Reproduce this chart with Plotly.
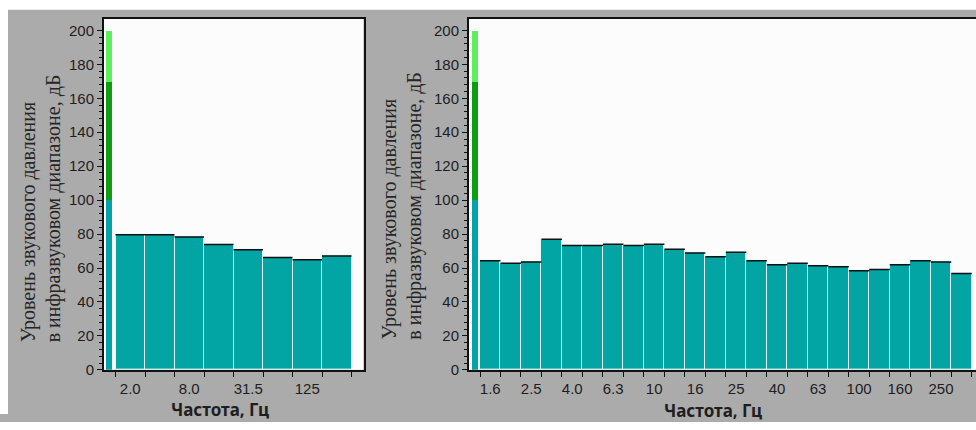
import plotly.graph_objects as go

# ---------------- data ----------------
left_bands = ["2.0", "4.0", "8.0", "16", "31.5", "63", "125", "250"]
left_values = [79.6, 79.6, 78.3, 73.9, 70.8, 66.2, 64.8, 67.1]
left_tick_labels = ["2.0", "8.0", "31.5", "125"]

right_bands = ["1.6", "2.0", "2.5", "3.15", "4.0", "5.0", "6.3", "8.0", "10", "12.5",
               "16", "20", "25", "31.5", "40", "50", "63", "80", "100", "125",
               "160", "200", "250", "315"]
right_values = [64.3, 62.8, 63.6, 77.0, 73.2, 73.2, 74.0, 73.2, 74.0, 71.1,
                68.8, 66.6, 69.3, 64.3, 62.0, 62.8, 61.4, 60.7, 58.4, 59.1,
                62.0, 64.3, 63.6, 56.8]
right_tick_labels = ["1.6", "2.5", "4.0", "6.3", "10", "16", "25", "40", "63", "100", "160", "250"]

level_bounds = [0, 100, 170, 200]          # indicator scale segments, dB
y_ticks = list(range(0, 201, 20))
y_minor = list(range(0, 201, 4))

y_title_1 = "Уровень звукового давления"
y_title_2 = "в инфразвуковом диапазоне, дБ"
x_title = "Частота, Гц"

# ---------------- style ----------------
W, H = 976, 422
GRAY = "#ABABAB"
TEAL = "#02A5A3"
SEG_COLORS = ["#03A1A8", "#0E9C12", "#5CEE5C"]
TXT = "#1E1E1E"
TICKFONT = dict(family="Liberation Sans, Arial", size=15, color=TXT)


def px(x):
    return x / W


def py(y):
    return 1 - y / H


Y0_PX, Y200_PX, TOP_PX = 377, 31, 19
unit = (Y0_PX - Y200_PX) / 200.0
y_max = (Y0_PX - TOP_PX) / unit

fig = go.Figure()


def add_chart(fig, xa, ya, bands, values, ind_x, ind_w):
    n = len(bands)
    xs = [i + 0.5 for i in range(n)]
    fig.add_trace(go.Bar(x=xs, y=values, width=1.0, xaxis=xa, yaxis=ya,
                         marker=dict(color=TEAL, line=dict(color="#E4F7F6", width=1)),
                         hovertext=bands, showlegend=False))
    # black top edge of each bar
    lx, ly = [], []
    for i, v in enumerate(values):
        lx += [i, i + 1, None]
        ly += [v, v, None]
    fig.add_trace(go.Scatter(x=lx, y=ly, mode="lines", xaxis=xa, yaxis=ya,
                             line=dict(color="#111111", width=1.5),
                             showlegend=False, hoverinfo="skip"))
    # level indicator column
    bases = level_bounds[:-1]
    heights = [b - a for a, b in zip(level_bounds[:-1], level_bounds[1:])]
    for b, h, c in zip(bases, heights, SEG_COLORS):
        fig.add_trace(go.Bar(x=[ind_x], y=[h], base=[b], width=ind_w, xaxis=xa, yaxis=ya,
                             marker=dict(color=c, line=dict(width=0)),
                             showlegend=False, hoverinfo="skip"))
    return [i + 0.5 for i in range(0, n, 2)]


# chart geometry (pixels)
L_AX, L_B0, L_BW, L_R = 104, 115.5, 29.5, 363.5
R_AX, R_B0, R_BW = 469, 480, 20.49

tv_left = add_chart(fig, "x", "y", left_bands, left_values,
                    ind_x=(108.7 - L_B0) / L_BW, ind_w=6.0 / L_BW)
tv_right = add_chart(fig, "x2", "y2", right_bands, right_values,
                     ind_x=(474.8 - R_B0) / R_BW, ind_w=6.6 / R_BW)

common_x = dict(showgrid=False, zeroline=False, showline=True, linecolor="#111111",
                linewidth=2, ticks="", tickfont=TICKFONT, tickmode="array",
                ticklabelstandoff=4, fixedrange=True)
common_y = dict(showgrid=False, zeroline=False, showline=True, linecolor="#111111",
                linewidth=2, ticks="outside", ticklen=5, tickwidth=1, tickcolor="#111111",
                tickfont=TICKFONT, tickmode="array", tickvals=y_ticks,
                ticktext=[str(t) for t in y_ticks], range=[0, y_max],
                domain=[py(Y0_PX), py(TOP_PX)], fixedrange=True,
                minor=dict(tickmode="array", tickvals=y_minor, ticks="outside",
                           ticklen=3, tickwidth=1, tickcolor="#111111"))

fig.update_layout(
    width=W, height=H, autosize=False,
    margin=dict(l=0, r=0, t=0, b=0, pad=0),
    paper_bgcolor=GRAY, plot_bgcolor="#FCFCFC",
    barmode="overlay", bargap=0,
    showlegend=False,
    xaxis=dict(common_x, domain=[px(L_AX), px(L_R)],
               range=[(L_AX - L_B0) / L_BW, (L_R - L_B0) / L_BW],
               tickvals=tv_left, ticktext=left_tick_labels, mirror=True,
               minor=dict(tickmode="array", tickvals=list(range(len(left_bands) + 1)),
                          ticks="outside", ticklen=5, tickwidth=1, tickcolor="#111111")),
    yaxis=dict(common_y, anchor="x", mirror=True),
    xaxis2=dict(common_x, domain=[px(R_AX), 1.0], anchor="y2",
                range=[(R_AX - R_B0) / R_BW, (W - R_B0) / R_BW],
                tickvals=tv_right, ticktext=right_tick_labels, mirror=True,
                minor=dict(tickmode="array", tickvals=list(range(len(right_bands) + 1)),
                           ticks="outside", ticklen=5, tickwidth=1, tickcolor="#111111")),
    yaxis2=dict(common_y, anchor="x2", mirror=False),
)

# white margins of the screenshot
fig.add_shape(type="rect", xref="paper", yref="paper", x0=0, x1=1, y0=py(10), y1=1,
              fillcolor="white", line=dict(width=0), layer="below")
fig.add_shape(type="rect", xref="paper", yref="paper", x0=0, x1=px(8), y0=0, y1=1,
              fillcolor="white", line=dict(width=0), layer="below")

YT_FONT = dict(family="Liberation Serif, Times New Roman, serif", size=20, color="#262626")
for cx1, cx2, bottom in [(28.5, 53, 350), (389.5, 414.3, 347)]:
    for cx, txt in [(cx1, y_title_1), (cx2, y_title_2)]:
        fig.add_annotation(text=txt, xref="paper", yref="paper", x=px(cx), y=py(bottom),
                           xanchor="center", yanchor="bottom", textangle=-90,
                           showarrow=False, font=YT_FONT, borderpad=0)

XT_FONT = dict(family="Noto Sans, DejaVu Sans", size=17, color=TXT)
for cx, cy in [(220, 417), (712.5, 418)]:
    fig.add_annotation(text=f"<b>{x_title}</b>", xref="paper", yref="paper", x=px(cx), y=py(cy),
                       xanchor="center", yanchor="middle", showarrow=False, font=XT_FONT)

fig.write_html("out.html")
